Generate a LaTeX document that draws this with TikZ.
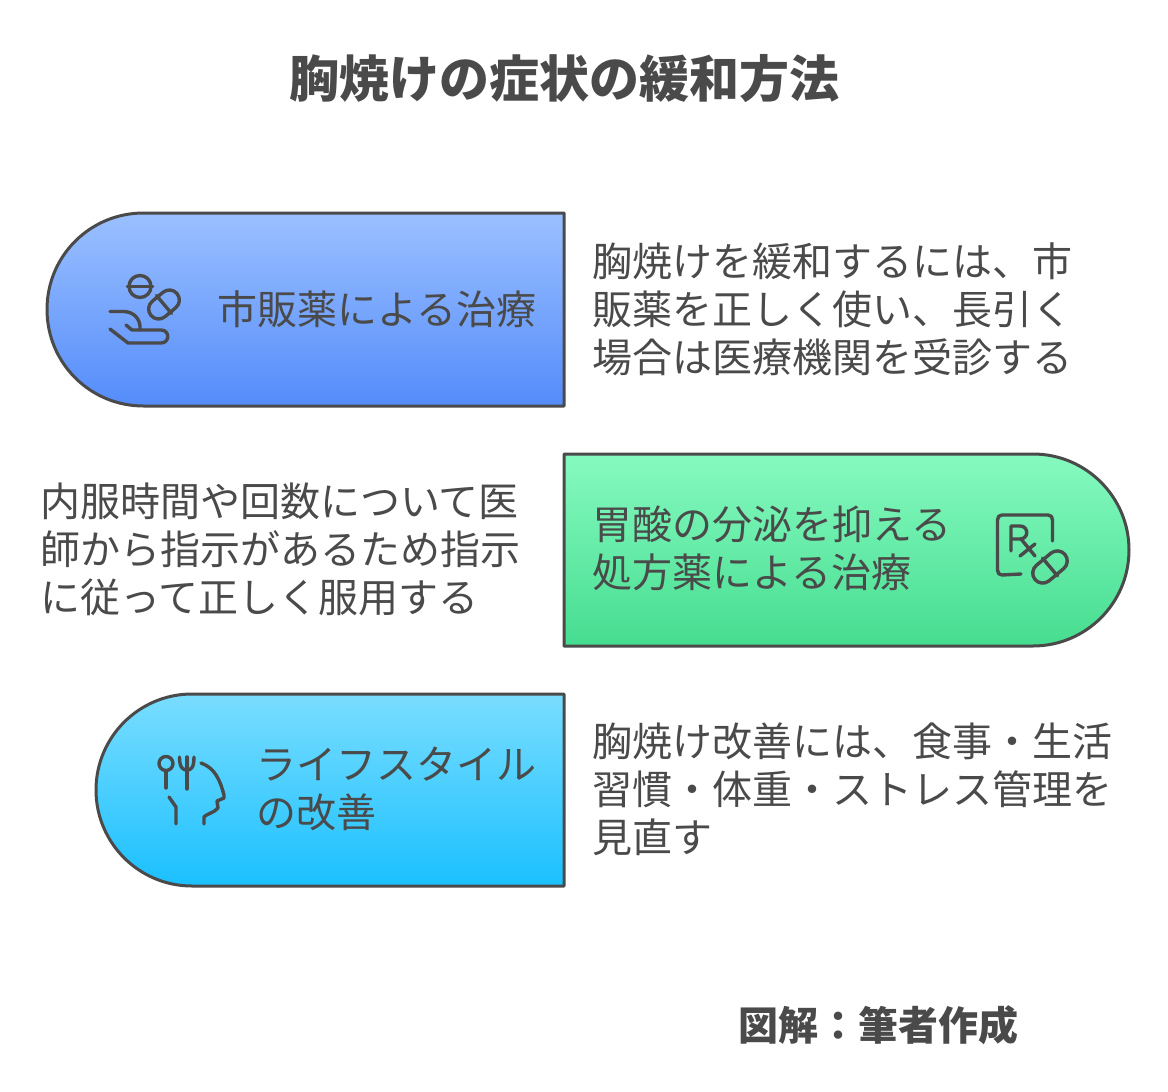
\documentclass[tikz,border=0pt]{standalone}
\usepackage{fontspec}
\setmainfont{Noto Sans CJK JP}
\usetikzlibrary{shapes.misc}

\definecolor{inkgray}{HTML}{4A4A4A}

\begin{document}
\begin{tikzpicture}[x=1pt,y=-1pt,
  every node/.style={text=inkgray, inner sep=0pt},
  pill/.style={draw=inkgray, line width=3pt, line join=round},
  icon/.style={draw=inkgray, line width=3.4pt, line cap=round, line join=round},
  capsule/.style={icon, rounded rectangle, inner sep=0pt, minimum height=20pt, minimum width=34pt},
  dot/.style={icon, circle, inner sep=0pt},
  body/.style={anchor=west, align=left, font=\fontsize{40}{48}\selectfont},
  heading/.style={font=\fontsize{50}{60}\selectfont\bfseries},
  credit/.style={font=\fontsize{40}{48}\selectfont\bfseries}
]
\useasboundingbox (0,0) rectangle (1168,1092);

\node[heading] (title) at (564,79) {胸焼けの症状の緩和方法};

% first band
\draw[pill, top color={rgb,255:red,155;green,192;blue,255}, bottom color={rgb,255:red,84;green,140;blue,250}]
  (564,213) -- (143.5,213) .. controls (90,213) and (47,256) .. (47,309.5)
  .. controls (47,363) and (90,406) .. (143.5,406) -- (564,406) -- cycle;
\node[body] (drug) at (217,309) {市販薬による治療};
\node[body] (drugnote) at (592,309) {胸焼けを緩和するには、市\\販薬を正しく使い、長引く\\場合は医療機関を受診する};

% second band
\draw[pill, top color={rgb,255:red,134;green,250;blue,192}, bottom color={rgb,255:red,70;green,221;blue,144}]
  (564,454) -- (1033,454) .. controls (1086,454) and (1129,497) .. (1129,550)
  .. controls (1129,603) and (1086,646) .. (1033,646) -- (564,646) -- cycle;
\node[body] (rx) at (592,548) {胃酸の分泌を抑える\\処方薬による治療};
\node[body] (rxnote) at (40,549) {内服時間や回数について医\\師から指示があるため指示\\に従って正しく服用する};

% third band
\draw[pill, top color={rgb,255:red,122;green,221;blue,255}, bottom color={rgb,255:red,26;green,192;blue,255}]
  (564,694) -- (192,694) .. controls (139,694) and (96,737) .. (96,790)
  .. controls (96,843) and (139,886) .. (192,886) -- (564,886) -- cycle;
\node[body] (life) at (256,789) {ライフスタイル\\の改善};
\node[body] (lifenote) at (592,789) {胸焼け改善には、食事・生活\\習慣・体重・ストレス管理を\\見直す};

\node[credit] (source) at (878,1025) {図解：筆者作成};

% hand and pills
\node[dot, minimum size=22pt] (tablet) at (140,286.5) {};
\draw[icon] (tablet.west) -- (tablet.east);
\node[capsule, rotate=40] (cap1) at (164,304.5) {};
\draw[icon] (cap1.north) -- (cap1.south);
\draw[icon] (110,311.5) -- (124,311.5) .. controls (134,312) and (141,319) .. (140,330);
\draw[icon] (126,325) -- (132,330) -- (161,330) .. controls (170,330) and (170,343) .. (161,343) -- (128,343) -- (110,329);

% prescription
\draw[icon] (1052.5,541) -- (1052.5,520) .. controls (1052.5,517) and (1051,515) .. (1048,515) -- (1002,515)
  .. controls (999,515) and (997.5,517) .. (997.5,520) -- (997.5,570) .. controls (997.5,573) and (999,575) .. (1002,575) -- (1021,574);
\draw[icon] (1011,551) -- (1011,526) -- (1020,526) .. controls (1029,526) and (1029,539) .. (1020,539) -- (1011,539);
\draw[icon] (1021,539) -- (1035,556);
\draw[icon] (1035,544) -- (1020,556);
\node[capsule, rotate=40, minimum width=39pt] (cap2) at (1050,567) {};
\draw[icon] (cap2.north) -- (cap2.south);

% head with fork and spoon
\node[dot, minimum size=14pt] (spoon) at (166,763.5) {};
\draw[icon] (spoon.south) -- (166,788);
\draw[icon] (179.5,757) .. controls (179.5,768) and (183,770) .. (187,770) .. controls (191,770) and (194,768) .. (194,757);
\draw[icon] (187,757) -- (187,789);
\draw[icon] (201,763) .. controls (215,768) and (220,780) .. (224,795) -- (224,798) -- (217,801) -- (218,808) .. controls (214,813) and (206,814) .. (204,817) -- (204,824);
\draw[icon] (169,797) -- (176,807) -- (176,824);
\end{tikzpicture}
\end{document}
